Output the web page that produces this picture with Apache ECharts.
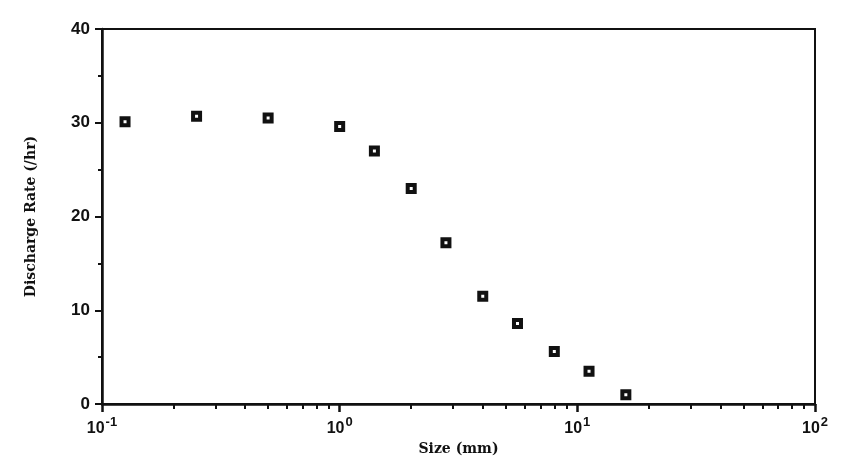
<!DOCTYPE html>
<html>
<head>
<meta charset="utf-8">
<script src="https://cdn.jsdelivr.net/npm/echarts@6/dist/echarts.min.js"></script>
<style>
  html, body { margin: 0; padding: 0; background: #fff; }
  #chart { width: 841px; height: 465px; }
</style>
</head>
<body>
<div id="chart"></div>
<script>
// particle size (mm) and discharge rate (/hr)
let sizes = [0.125, 0.25, 0.5, 1.0, 1.4, 2.0, 2.8, 4.0, 5.6, 8.0, 11.2, 16.0]
let rates = [30.1, 30.7, 30.5, 29.6, 27.0, 23.0, 17.2, 11.5, 8.6, 5.6, 3.5, 1.0]
let yTicks = [0, 10, 20, 30, 40]
let decades = [0.1, 1, 10]

// minor tick spots (2..9 in each decade), in log10 space
let minorTicks = []
decades.forEach(d => {
  for (let k = 2; k <= 9; k++) minorTicks.push(Math.log10(d * k))
})

let ins = echarts.init(document.getElementById('chart'))
let txt = '#111'

ins.setOption({
  animation: false,
  grid: {
    left: 102,
    right: 26,
    top: 29,
    bottom: 61,
    show: true,
    borderColor: txt,
    borderWidth: 2
  },
  xAxis: [{
    type: 'log',
    logBase: 10,
    min: 0.1,
    max: 100,
    name: 'Size (mm)',
    nameLocation: 'middle',
    nameGap: 34,
    nameTextStyle: { fontFamily: 'DejaVu Serif', fontWeight: 'bold', fontSize: 14, color: txt },
    axisLine: { onZero: false, lineStyle: { color: txt, width: 2.5 } },
    axisTick: { show: true, inside: false, length: 8, lineStyle: { color: txt, width: 2.5 } },
    splitLine: { show: false },
    axisLabel: {
      margin: 12,
      color: txt,
      formatter: v => '{b|10}{s|' + Math.round(Math.log10(v)) + '}',
      rich: {
        b: { fontFamily: 'Liberation Sans', fontWeight: 'bold', fontSize: 16, color: txt, verticalAlign: 'bottom' },
        s: { fontFamily: 'Liberation Sans', fontWeight: 'bold', fontSize: 13, color: txt, verticalAlign: 'bottom', padding: [0, 0, 8, 1] }
      }
    }
  }, {
    // carries only the minor ticks of the log axis
    type: 'value',
    position: 'bottom',
    min: -1,
    max: 2,
    axisLine: { show: false, onZero: false },
    axisLabel: { show: false },
    splitLine: { show: false },
    axisTick: { show: true, length: 5, customValues: minorTicks, lineStyle: { color: txt, width: 2 } }
  }],
  yAxis: {
    type: 'value',
    min: 0,
    max: 40,
    interval: 10,
    name: 'Discharge Rate (/hr)',
    nameLocation: 'middle',
    nameGap: 64,
    nameTextStyle: { fontFamily: 'DejaVu Serif', fontWeight: 'bold', fontSize: 14, color: txt },
    axisLine: { show: true, onZero: false, lineStyle: { color: txt, width: 2.5 } },
    axisTick: { show: true, length: 7, lineStyle: { color: txt, width: 2 } },
    minorTick: { show: true, splitNumber: 2, length: 4, lineStyle: { color: txt, width: 2 } },
    splitLine: { show: false },
    axisLabel: {
      margin: 12,
      color: txt,
      fontFamily: 'Liberation Sans',
      fontWeight: 'bold',
      fontSize: 17,
      formatter: v => yTicks.includes(v) ? String(v) : ''
    }
  },
  series: [{
    type: 'scatter',
    xAxisIndex: 0,
    data: sizes.map((s, i) => [s, rates[i]]),
    symbol: 'rect',
    symbolSize: 7,
    itemStyle: { color: '#fff', borderColor: txt, borderWidth: 4, opacity: 1 }
  }]
})
</script>
</body>
</html>
